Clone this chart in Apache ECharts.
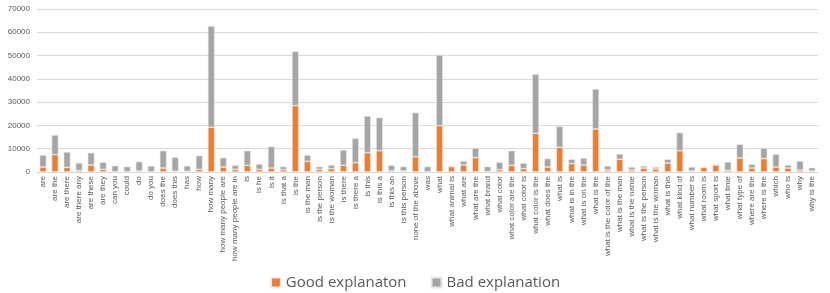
<!DOCTYPE html>
<html><head><meta charset="utf-8">
<script src="https://cdn.jsdelivr.net/npm/echarts@6/dist/echarts.min.js"></script>
<style>html,body{margin:0;padding:0;background:#fff}#c{width:830px;height:293px}</style>
</head><body><div id="c"></div>
<script>
const categories = ["are","are the","are there","are there any","are these","are they","can you","could","do","do you","does the","does this","has","how","how many","how many people are","how many people are in","is","is he","is it","is that a","is the","is the man","is the person","is the woman","is there","is there a","is this","is this a","is this an","is this person","none of the above","was","what","what animal is","what are","what are the","what brand","what color","what color are the","what color is","what color is the","what does the","what is","what is in the","what is on the","what is the","what is the color of the","what is the man","what is the name","what is the person","what is the woman","what is this","what kind of","what number is","what room is","what sport is","what time","what type of","where are the","where is the","which","who is","why","why is the"];
const goodValues = [2150,7450,2000,600,3000,1150,100,100,400,100,1700,300,300,1150,19200,2150,1150,2850,1150,1700,1000,28500,4600,1150,1450,2850,4000,8300,9150,550,400,6600,100,19900,2300,3000,6150,200,1000,2850,1450,16600,2150,10600,3600,3000,18450,850,5450,850,1700,1300,3850,9150,400,2000,3000,700,6000,1700,5750,2150,1700,850,400];
const totalValues = [7300,15900,8600,3900,8300,4150,2700,2300,4450,2600,9150,6300,2600,7000,62700,6150,2850,9150,3450,10900,2300,51800,7300,2300,3000,9450,14450,24050,23350,2850,2300,25500,2300,50250,2600,4700,10300,2300,4150,9150,3850,41950,5750,19600,5450,6000,35650,2600,7750,2150,2600,2150,5450,16900,2150,2150,3300,4300,11900,3300,10300,7600,3000,4700,1850];
const badValues = totalValues.map((t,i)=>t-goodValues[i]);
const yTicks = [0,10000,20000,30000,40000,50000,60000,70000];

const chart = echarts.init(document.getElementById('c'));
const font = '"Liberation Sans", Arial, sans-serif';
chart.setOption({
  animation:false,
  textStyle:{fontFamily:font},
  grid:{left:37,right:12,top:9,bottom:121,containLabel:false},
  legend:{
    data:['Good explanaton','Bad explanation'],
    bottom:-2, left:'center', itemWidth:10, itemHeight:10, itemGap:24,
    icon:'rect',
    textStyle:{fontSize:15,color:'#595959',fontFamily:'"Open Sans", sans-serif'}
  },
  xAxis:{
    type:'category', data:categories,
    axisLine:{lineStyle:{color:'#d9d9d9'}},
    axisTick:{show:false},
    axisLabel:{rotate:90,interval:0,fontSize:8,color:'#595959',margin:4}
  },
  yAxis:{
    type:'value', min:yTicks[0], max:yTicks[yTicks.length-1], interval:10000,
    axisLine:{show:false}, axisTick:{show:false},
    splitLine:{lineStyle:{color:'#d9d9d9'}},
    axisLabel:{fontSize:8,color:'#595959',margin:7,formatter:v=>String(v)}
  },
  series:[
    {name:'Good explanaton',type:'bar',stack:'a',data:goodValues,barWidth:'56%',
     itemStyle:{color:'#ED7D31',borderColor:'#f2f2f2',borderWidth:0.6}},
    {name:'Bad explanation',type:'bar',stack:'a',data:badValues,barWidth:'56%',
     itemStyle:{color:'#A5A5A5',borderColor:'#e8e8e8',borderWidth:0.6}}
  ]
});
</script></body></html>
